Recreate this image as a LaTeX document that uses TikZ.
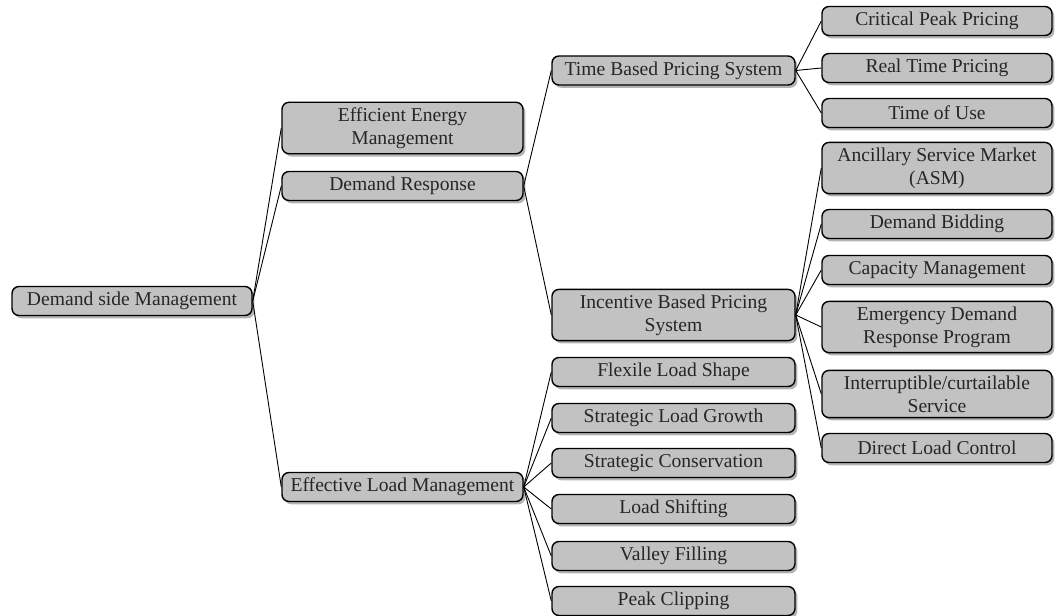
\documentclass[tikz,border=0pt]{standalone}
\usepackage{fontspec}
\setmainfont{Liberation Serif}
\usepackage{xcolor}
\usepackage{tikz}
\usetikzlibrary{
	shapes,shadows
}
\tikzset{
	leaf/.style={rounded corners=3.5pt,draw=black,line width=0.7pt,fill=black!24,
		text=black!85,align=center,font=\fontsize{9.8}{11.5}\selectfont,
		inner xsep=2pt,inner ysep=2.6pt,minimum height=14.5pt,
		drop shadow={shadow xshift=1.2pt,shadow yshift=-1.4pt,opacity=0.6}},
	link/.style={line width=0.45pt}
}

\begin{document}
\begin{tikzpicture}[x=0.5pt,y=-0.5pt]
\useasboundingbox (0,0) rectangle (1057,616);
%
\node[leaf,minimum width=120pt] (dsm) at (132,301) {Demand side Management};
%
\node[leaf,minimum width=120.5pt] (eem) at (402.5,128) {Efficient Energy\\Management};
\node[leaf,minimum width=120.5pt] (dr) at (402.5,186) {Demand Response};
\node[leaf,minimum width=120.5pt] (elm) at (402.5,487) {Effective Load Management};
%
\node[leaf,minimum width=121.5pt] (tbps) at (673.5,70.5) {Time Based Pricing System};
\node[leaf,minimum width=121.5pt] (ibps) at (673.5,315) {Incentive Based Pricing\\System};
\node[leaf,minimum width=121.5pt] (fls) at (673.5,372) {Flexile Load Shape};
\node[leaf,minimum width=121.5pt] (slg) at (673.5,418) {Strategic Load Growth};
\node[leaf,minimum width=121.5pt] (sc) at (673.5,463) {Strategic Conservation};
\node[leaf,minimum width=121.5pt] (ls) at (673.5,509) {Load Shifting};
\node[leaf,minimum width=121.5pt] (vf) at (673.5,556) {Valley Filling};
\node[leaf,minimum width=121.5pt] (pc) at (673.5,601) {Peak Clipping};
%
\node[leaf,minimum width=115pt] (cpp) at (937,21) {Critical Peak Pricing};
\node[leaf,minimum width=115pt] (rtp) at (937,68) {Real Time Pricing};
\node[leaf,minimum width=115pt] (tou) at (937,113) {Time of Use};
\node[leaf,minimum width=115pt] (asm) at (937,168) {Ancillary Service Market\\(ASM)};
\node[leaf,minimum width=115pt] (db) at (937,224) {Demand Bidding};
\node[leaf,minimum width=115pt] (cm) at (937,270) {Capacity Management};
\node[leaf,minimum width=115pt] (edrp) at (937,327) {Emergency Demand\\Response Program};
\node[leaf,minimum width=115pt] (ics) at (937,394) {Interruptible/curtailable\\Service};
\node[leaf,minimum width=115pt] (dlc) at (937,448) {Direct Load Control};
%
\draw [link] (dsm.east) -- (eem.west);
\draw [link] (dsm.east) -- (dr.west);
\draw [link] (dsm.east) -- (elm.west);
%
\draw [link] (dr.east) -- (tbps.west);
\draw [link] (dr.east) -- (ibps.west);
\foreach \n in {fls,slg,sc,ls,vf,pc}
	\draw [link] (elm.east) -- (\n.west);
%
\foreach \n in {cpp,rtp,tou}
	\draw [link] (tbps.east) -- (\n.west);
\foreach \n in {asm,db,cm,edrp,ics,dlc}
	\draw [link] (ibps.east) -- (\n.west);
\end{tikzpicture}
\end{document}
